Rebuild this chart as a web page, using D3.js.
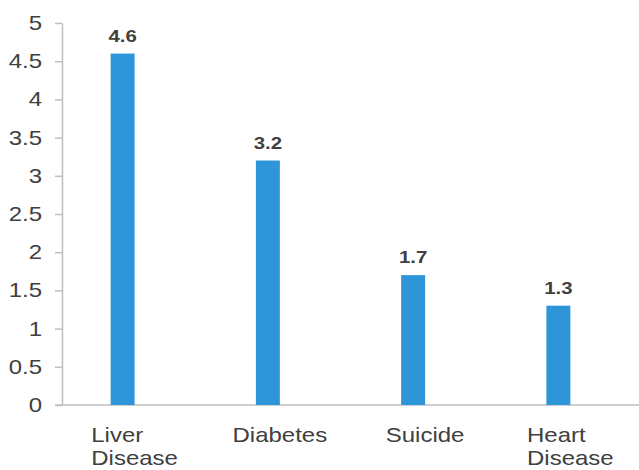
<!DOCTYPE html>
<html>
<head>
<meta charset="utf-8">
<script src="https://cdn.jsdelivr.net/npm/d3@7"></script>
<style>
  body { margin: 0; background: #fff; }
  text { font-family: 'Liberation Sans', Arial, sans-serif; }
</style>
</head>
<body>
<div id="chart"></div>
<script>
// chart data
const categories = [['Liver', 'Disease'], ['Diabetes'], ['Suicide'], ['Heart', 'Disease']]
const values = [4.6, 3.2, 1.7, 1.3]
const yTicks = [0, 0.5, 1, 1.5, 2, 2.5, 3, 3.5, 4, 4.5, 5]

const draw = () => {
  const dimensions = {
    width: 639,
    height: 470,
    top: 23,
    bottom: 405,
    axisX: 62,
    bandLeft: 50,
    bandRight: 631,
  }
  const stretch = 1.2 // the reference text is a bit wide
  const grey = '#bfbfbf'
  const textColor = '#404040'

  const svg = d3
    .select('#chart')
    .append('svg')
    .attr('width', dimensions.width)
    .attr('height', dimensions.height)

  // scales
  const yScale = d3
    .scaleLinear()
    .domain([0, 5])
    .range([dimensions.bottom, dimensions.top])

  // outer padding = inner / 2 so each band is centered in its slot
  const xScale = d3
    .scaleBand()
    .domain(d3.range(values.length))
    .range([dimensions.bandLeft, dimensions.bandRight])
    .paddingInner(0.835)
    .paddingOuter(0.4175)

  // y axis
  const yAxis = d3
    .axisLeft(yScale)
    .tickValues(yTicks)
    .tickSize(7)
    .tickSizeOuter(0)
    .tickFormat((d) => String(d))

  const yAxisGroup = svg
    .append('g')
    .attr('transform', `translate(${dimensions.axisX}, 0)`)
    .call(yAxis)

  yAxisGroup.selectAll('path, line').attr('stroke', grey).attr('stroke-width', 1.5)
  yAxisGroup
    .selectAll('text')
    .attr('fill', textColor)
    .style('font-size', '20px')
    .attr('x', -20 / stretch)
    .attr('transform', `scale(${stretch},1)`)

  // x axis line
  svg
    .append('line')
    .attr('x1', dimensions.axisX - 7)
    .attr('x2', dimensions.width)
    .attr('y1', yScale(0))
    .attr('y2', yScale(0))
    .attr('stroke', grey)
    .attr('stroke-width', 1.5)

  // bars
  svg
    .append('g')
    .selectAll('rect')
    .data(values)
    .join('rect')
    .attr('x', (d, i) => xScale(i))
    .attr('width', xScale.bandwidth())
    .attr('y', (d) => yScale(d))
    .attr('height', (d) => yScale(0) - yScale(d))
    .attr('fill', '#2e96d8')

  // value labels
  svg
    .append('g')
    .selectAll('text')
    .data(values)
    .join('text')
    .attr('transform', (d, i) =>
      `translate(${xScale(i) + xScale.bandwidth() / 2}, ${yScale(d) - 12}) scale(${stretch},1)`)
    .attr('text-anchor', 'middle')
    .attr('fill', textColor)
    .style('font-size', '17px')
    .style('font-weight', 'bold')
    .text((d) => d.toFixed(1))

  // category labels (left-aligned block, centered a little right of the bar)
  const catGroups = svg
    .append('g')
    .selectAll('text')
    .data(categories)
    .join('text')
    .attr('fill', textColor)
    .style('font-size', '20px')

  catGroups.each(function (lines, i) {
    const t = d3.select(this)
    lines.forEach((line, j) => {
      t.append('tspan').attr('x', 0).attr('dy', j === 0 ? 0 : 23).text(line)
    })
    const w = this.getBBox().width * stretch
    const cx = xScale(i) + xScale.bandwidth() / 2 + 12
    t.attr('transform', `translate(${cx - w / 2}, ${yScale(0) + 37}) scale(${stretch},1)`)
  })
}

draw()
</script>
</body>
</html>
